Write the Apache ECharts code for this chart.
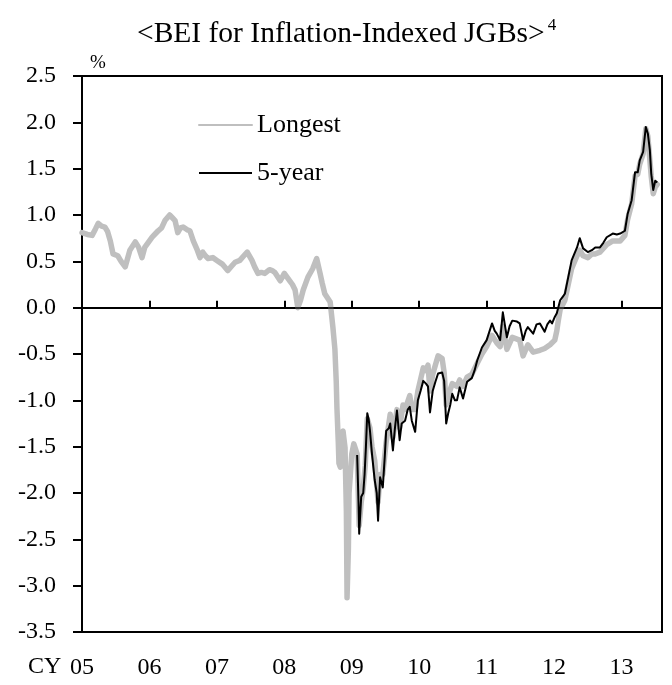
<!DOCTYPE html>
<html>
<head>
<meta charset="utf-8">
<title>BEI for Inflation-Indexed JGBs</title>
<script src="https://cdn.jsdelivr.net/npm/echarts@6/dist/echarts.min.js"></script>
<style>
  html, body { margin: 0; padding: 0; background: #fff; }
  #chart { width: 672px; height: 685px; }
</style>
</head>
<body>
<div id="chart"></div>
<script>
// Break-even inflation rates, % (x = calendar year as a decimal)
const longestSeries = [
  [2005.00,0.81],[2005.08,0.79],[2005.15,0.78],[2005.20,0.85],[2005.24,0.91],[2005.29,0.88],
  [2005.34,0.87],[2005.38,0.82],[2005.42,0.72],[2005.46,0.58],[2005.53,0.56],[2005.58,0.50],
  [2005.64,0.44],[2005.71,0.62],[2005.79,0.71],[2005.84,0.65],[2005.89,0.54],[2005.93,0.65],
  [2006.00,0.72],[2006.04,0.76],[2006.13,0.83],[2006.18,0.86],[2006.23,0.94],[2006.30,1.00],
  [2006.34,0.97],[2006.38,0.94],[2006.42,0.81],[2006.46,0.86],[2006.50,0.87],[2006.56,0.84],
  [2006.60,0.83],[2006.65,0.72],[2006.71,0.62],[2006.75,0.54],[2006.79,0.60],[2006.83,0.56],
  [2006.87,0.53],[2006.94,0.54],[2007.00,0.51],[2007.08,0.47],[2007.16,0.40],[2007.22,0.45],
  [2007.27,0.49],[2007.34,0.51],[2007.40,0.56],[2007.45,0.60],[2007.52,0.51],[2007.56,0.44],
  [2007.61,0.37],[2007.66,0.38],[2007.71,0.37],[2007.78,0.41],[2007.82,0.40],[2007.86,0.38],
  [2007.94,0.29],[2008.00,0.37],[2008.04,0.33],[2008.08,0.29],[2008.12,0.25],[2008.16,0.19],
  [2008.20,0.00],[2008.24,0.08],[2008.28,0.19],[2008.35,0.33],[2008.42,0.42],[2008.48,0.53],
  [2008.53,0.37],[2008.56,0.27],[2008.60,0.15],[2008.68,0.06],[2008.72,-0.21],[2008.75,-0.45],
  [2008.77,-0.80],[2008.78,-1.08],[2008.80,-1.45],[2008.81,-1.68],[2008.83,-1.72],[2008.85,-1.55],
  [2008.87,-1.33],[2008.90,-1.51],[2008.92,-2.20],[2008.93,-3.13],[2008.95,-2.60],[2008.96,-2.00],
  [2009.00,-1.58],[2009.03,-1.47],[2009.05,-1.47],[2009.08,-1.58],[2009.11,-2.35],[2009.14,-2.10],
  [2009.17,-1.95],[2009.20,-1.70],[2009.23,-1.20],[2009.27,-1.30],[2009.30,-1.50],[2009.34,-1.65],
  [2009.39,-2.10],[2009.42,-1.80],[2009.46,-1.80],[2009.51,-1.45],[2009.57,-1.15],[2009.61,-1.40],
  [2009.67,-1.10],[2009.71,-1.30],[2009.76,-1.05],[2009.79,-1.10],[2009.86,-0.95],[2009.89,-1.10],
  [2009.94,-1.10],[2009.98,-0.90],[2010.06,-0.65],[2010.10,-0.68],[2010.13,-0.62],[2010.16,-0.90],
  [2010.20,-0.72],[2010.28,-0.52],[2010.34,-0.55],[2010.37,-0.70],[2010.40,-1.05],[2010.43,-0.95],
  [2010.49,-0.82],[2010.56,-0.85],[2010.60,-0.78],[2010.65,-0.85],[2010.71,-0.75],[2010.78,-0.72],
  [2010.86,-0.60],[2010.93,-0.50],[2011.00,-0.42],[2011.08,-0.30],[2011.15,-0.38],[2011.20,-0.42],
  [2011.24,-0.20],[2011.30,-0.45],[2011.38,-0.32],[2011.49,-0.35],[2011.54,-0.52],[2011.61,-0.40],
  [2011.69,-0.48],[2011.79,-0.46],[2011.86,-0.44],[2011.94,-0.40],[2012.01,-0.35],[2012.04,-0.25],
  [2012.06,-0.15],[2012.09,-0.02],[2012.16,0.08],[2012.21,0.25],[2012.26,0.42],[2012.34,0.56],
  [2012.38,0.62],[2012.43,0.56],[2012.50,0.54],[2012.56,0.58],[2012.61,0.58],[2012.68,0.60],
  [2012.78,0.68],[2012.87,0.72],[2012.98,0.72],[2013.05,0.78],[2013.09,0.95],[2013.15,1.12],
  [2013.20,1.42],[2013.24,1.44],[2013.27,1.55],[2013.32,1.66],[2013.36,1.93],[2013.39,1.85],
  [2013.44,1.42],[2013.47,1.23],[2013.50,1.30],[2013.53,1.33]
];

const fiveYearSeries = [
  [2009.08,-1.59],[2009.10,-2.10],[2009.11,-2.44],[2009.14,-2.04],[2009.17,-2.00],[2009.19,-1.80],
  [2009.21,-1.50],[2009.23,-1.14],[2009.25,-1.20],[2009.27,-1.33],[2009.30,-1.58],[2009.34,-1.86],
  [2009.37,-2.00],[2009.39,-2.30],[2009.42,-1.83],[2009.46,-1.94],[2009.49,-1.60],[2009.51,-1.33],
  [2009.55,-1.30],[2009.57,-1.25],[2009.61,-1.54],[2009.64,-1.30],[2009.67,-1.11],[2009.71,-1.43],
  [2009.74,-1.25],[2009.79,-1.22],[2009.83,-1.10],[2009.86,-1.07],[2009.89,-1.22],[2009.94,-1.34],
  [2009.98,-1.00],[2010.02,-0.90],[2010.06,-0.79],[2010.10,-0.82],[2010.13,-0.85],[2010.16,-1.13],
  [2010.20,-0.90],[2010.24,-0.80],[2010.28,-0.71],[2010.34,-0.70],[2010.37,-0.79],[2010.40,-1.25],
  [2010.43,-1.14],[2010.46,-1.05],[2010.49,-0.93],[2010.53,-1.00],[2010.56,-1.00],[2010.60,-0.86],
  [2010.65,-0.98],[2010.71,-0.80],[2010.78,-0.76],[2010.82,-0.68],[2010.86,-0.57],[2010.93,-0.43],
  [2011.00,-0.35],[2011.08,-0.17],[2011.12,-0.25],[2011.15,-0.28],[2011.20,-0.35],[2011.24,-0.05],
  [2011.30,-0.32],[2011.34,-0.20],[2011.38,-0.14],[2011.45,-0.15],[2011.49,-0.17],[2011.54,-0.35],
  [2011.58,-0.25],[2011.61,-0.21],[2011.69,-0.28],[2011.74,-0.18],[2011.79,-0.17],[2011.86,-0.26],
  [2011.90,-0.18],[2011.94,-0.14],[2011.97,-0.17],[2012.01,-0.10],[2012.04,-0.06],[2012.09,0.08],
  [2012.13,0.12],[2012.16,0.15],[2012.21,0.33],[2012.26,0.51],[2012.30,0.58],[2012.34,0.65],
  [2012.38,0.75],[2012.43,0.64],[2012.50,0.60],[2012.56,0.62],[2012.61,0.65],[2012.68,0.65],
  [2012.73,0.70],[2012.78,0.76],[2012.87,0.80],[2012.93,0.79],[2012.98,0.80],[2013.05,0.83],
  [2013.09,1.01],[2013.15,1.16],[2013.20,1.46],[2013.24,1.46],[2013.27,1.59],[2013.32,1.68],
  [2013.36,1.95],[2013.39,1.88],[2013.42,1.70],[2013.44,1.45],[2013.47,1.27],[2013.50,1.37],
  [2013.53,1.35]
];

const seriesNames = ['Longest', '5-year'];
const yearTicks = ['05', '06', '07', '08', '09', '10', '11', '12', '13'];
const firstYear = 2005;

const FONT = '"Liberation Serif", "Times New Roman", serif';

const chart = echarts.init(document.getElementById('chart'), null, { renderer: 'canvas' });

chart.setOption({
  animation: false,
  backgroundColor: '#fff',
  title: {
    text: '<BEI for Inflation-Indexed JGBs>{sup|4}',
    left: 132,
    top: 12,
    textStyle: {
      fontFamily: FONT,
      fontSize: 29.5,
      fontWeight: 'normal',
      color: '#000',
      rich: {
        sup: { fontFamily: FONT, fontSize: 17, color: '#000', padding: [0, 0, 17, 3] }
      }
    }
  },
  legend: {
    orient: 'vertical',
    left: 193,
    top: 107,
    itemWidth: 53,
    itemHeight: 14,
    itemGap: 22,
    selectedMode: false,
    itemStyle: { opacity: 0 },
    textStyle: { fontFamily: FONT, fontSize: 26, color: '#000' },
    data: seriesNames
  },
  grid: {
    left: 82,
    right: 10,
    top: 76,
    bottom: 53,
    containLabel: false,
    outerBoundsMode: 'none',
    show: true,
    borderColor: '#000',
    borderWidth: 2,
    backgroundColor: 'transparent'
  },
  graphic: [
    {
      type: 'text',
      left: 28,
      top: 655,
      silent: true,
      style: { text: 'CY', fontFamily: FONT, fontSize: 24, fill: '#000' }
    }
  ],
  xAxis: {
    type: 'value',
    min: firstYear,
    max: 2013.6,
    interval: 1,
    axisLine: { show: true, lineStyle: { color: '#000', width: 2 } },
    axisTick: { show: true, inside: true, length: 7, lineStyle: { color: '#000', width: 2 } },
    splitLine: { show: false },
    axisLabel: {
      margin: 24,
      fontFamily: FONT,
      fontSize: 24,
      color: '#000',
      showMaxLabel: false,
      formatter: function (v) {
        const k = Math.round(v - firstYear);
        return Math.abs(v - firstYear - k) < 1e-6 && yearTicks[k] !== undefined ? yearTicks[k] : '';
      }
    }
  },
  yAxis: {
    type: 'value',
    min: -3.5,
    max: 2.5,
    interval: 0.5,
    name: '%',
    nameLocation: 'end',
    nameGap: 3,
    nameTextStyle: { fontFamily: FONT, fontSize: 19, color: '#000', align: 'left', padding: [0, 0, 0, 8] },
    axisLine: { show: true, lineStyle: { color: '#000', width: 2 } },
    axisTick: { show: true, inside: false, length: 9, lineStyle: { color: '#000', width: 2 } },
    splitLine: { show: false },
    axisLabel: {
      margin: 26,
      fontFamily: FONT,
      fontSize: 24,
      color: '#000',
      formatter: function (v) { return v.toFixed(1); }
    }
  },
  series: [
    {
      name: seriesNames[0],
      type: 'line',
      data: longestSeries,
      symbol: 'none',
      silent: true,
      lineStyle: { color: '#bfbfbf', width: 5.5, join: 'round', cap: 'round' },
      itemStyle: { color: '#bfbfbf' },
      z: 2
    },
    {
      name: seriesNames[1],
      type: 'line',
      data: fiveYearSeries,
      symbol: 'none',
      silent: true,
      lineStyle: { color: '#000', width: 2, join: 'round' },
      itemStyle: { color: '#000' },
      z: 3,
      markLine: {
        silent: true,
        symbol: 'none',
        label: { show: false },
        lineStyle: { color: '#000', width: 1.5, type: 'solid' },
        data: [{ yAxis: 0 }]
      }
    }
  ]
});
</script>
</body>
</html>
